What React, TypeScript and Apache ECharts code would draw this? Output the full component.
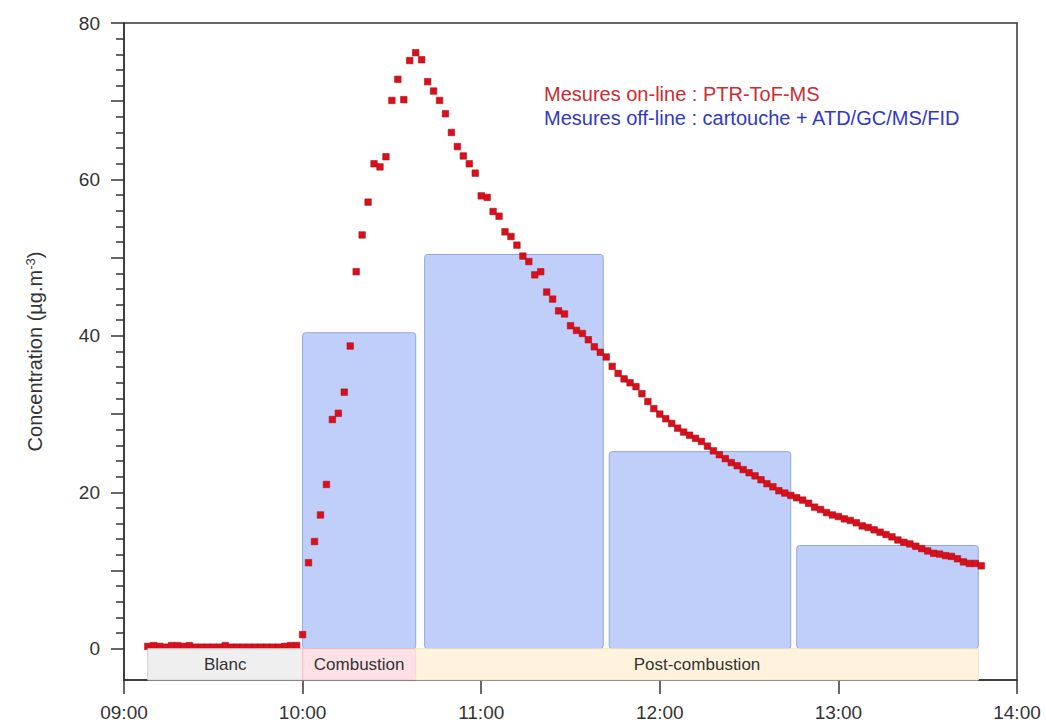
import React, { useEffect, useRef } from 'react';
import * as echarts from 'echarts';

// ---------- data ----------
const hourTicks = ['09:00', '10:00', '11:00', '12:00', '13:00', '14:00'];
const yLabelValues = [0, 20, 40, 60, 80];
const yMajorTickValues = [0, 10, 20, 30, 40, 50, 60, 70, 80];
const yMinorTickValues = [2, 4, 6, 8, 12, 14, 16, 18, 22, 24, 26, 28, 32, 34, 36, 38, 42, 44, 46, 48, 52, 54, 56, 58, 62, 64, 66, 68, 72, 74, 76, 78];

const phaseNames = ['Blanc', 'Combustion', 'Post-combustion'];
const phaseStart = ['09:08', '10:00', '10:38'];
const phaseEnd = ['10:00', '10:38', '13:47'];

const offlineStart = ['10:00', '10:41', '11:43', '12:46'];
const offlineEnd = ['10:38', '11:41', '12:44', '13:47'];
const offlineConc = [40.4, 50.4, 25.2, 13.2];

const onlineTime = [
  '09:08', '09:10', '09:12', '09:14', '09:16', '09:18', '09:20', '09:22', '09:24', '09:26',
  '09:28', '09:30', '09:32', '09:34', '09:36', '09:38', '09:40', '09:42', '09:44', '09:46',
  '09:48', '09:50', '09:52', '09:54', '09:56', '09:58',
  '10:00', '10:02', '10:04', '10:06', '10:08', '10:10', '10:12', '10:14', '10:16', '10:18',
  '10:20', '10:22', '10:24', '10:26', '10:28', '10:30', '10:32', '10:34', '10:36', '10:38',
  '10:40', '10:42', '10:44', '10:46', '10:48', '10:50', '10:52', '10:54', '10:56', '10:58',
  '11:00', '11:02', '11:04', '11:06', '11:08', '11:10', '11:12', '11:14', '11:16', '11:18',
  '11:20', '11:22', '11:24', '11:26', '11:28', '11:30', '11:32', '11:34', '11:36', '11:38',
  '11:40', '11:42', '11:44', '11:46', '11:48', '11:50', '11:52', '11:54', '11:56', '11:58',
  '12:00', '12:02', '12:04', '12:06', '12:08', '12:10', '12:12', '12:14', '12:16', '12:18',
  '12:20', '12:22', '12:24', '12:26', '12:28', '12:30', '12:32', '12:34', '12:36', '12:38',
  '12:40', '12:42', '12:44', '12:46', '12:48', '12:50', '12:52', '12:54', '12:56', '12:58',
  '13:00', '13:02', '13:04', '13:06', '13:08', '13:10', '13:12', '13:14', '13:16', '13:18',
  '13:20', '13:22', '13:24', '13:26', '13:28', '13:30', '13:32', '13:34', '13:36', '13:38',
  '13:40', '13:42', '13:44', '13:46', '13:48',
];
const onlineConc = [
  0.3, 0.4, 0.3, 0.2, 0.4, 0.4, 0.3, 0.4, 0.2, 0.2,
  0.2, 0.2, 0.2, 0.4, 0.2, 0.2, 0.2, 0.2, 0.2, 0.2,
  0.2, 0.2, 0.2, 0.3, 0.4, 0.4,
  1.8, 11.0, 13.7, 17.1, 21.0, 29.3, 30.1, 32.8, 38.7, 48.2,
  52.9, 57.1, 62.0, 61.6, 62.9, 70.1, 72.8, 70.2, 75.2, 76.2,
  75.3, 72.5, 71.3, 70.1, 68.4, 66.0, 64.2, 63.0, 62.0, 60.8,
  57.9, 57.7, 55.9, 55.3, 53.3, 52.7, 51.6, 50.2, 49.5, 47.8,
  48.2, 45.6, 44.7, 43.2, 42.8, 41.3, 40.7, 40.3, 39.5, 38.6,
  37.9, 37.3, 36.1, 35.2, 34.5, 34.0, 33.5, 32.6, 31.6, 30.7,
  30.0, 29.4, 28.8, 28.2, 27.7, 27.3, 26.9, 26.5, 25.9, 25.3,
  24.8, 24.3, 23.8, 23.4, 22.9, 22.5, 22.1, 21.6, 21.1, 20.7,
  20.2, 19.9, 19.6, 19.3, 19.0, 18.6, 18.1, 17.8, 17.4, 17.1,
  16.9, 16.6, 16.4, 16.1, 15.7, 15.5, 15.2, 14.9, 14.6, 14.3,
  13.9, 13.6, 13.4, 13.1, 12.8, 12.5, 12.2, 12.1, 11.9, 11.8,
  11.5, 11.1, 10.9, 10.9, 10.6,
];

const legendLines = ['Mesures on-line : PTR-ToF-MS', 'Mesures off-line : cartouche + ATD/GC/MS/FID'];
const yAxisTitle = 'Concentration (µg.m';
const yAxisTitleSup = '-3';

// ---------- helpers ----------
const toMin = (s: string) => {
  const [h, m] = s.split(':').map(Number);
  return h * 60 + m;
};

const FONT = '"Liberation Sans", Arial, Helvetica, sans-serif';
const AXIS_COLOR = '#333333';
const phaseFill = ['#efefef', '#fde1e7', '#fff3de'];
const phaseStroke = ['#cfcfcf', '#f1bcc6', '#f2e2c2'];

export default function App() {
  const ref = useRef<HTMLDivElement>(null);

  useEffect(() => {
    if (!ref.current) return;
    const chart = echarts.init(ref.current, undefined, { renderer: 'svg' });

    const onlineData = onlineTime.map((t, i) => [toMin(t), onlineConc[i]]);
    const offlineData = offlineStart.map((s, i) => [toMin(s), toMin(offlineEnd[i]), offlineConc[i]]);
    const phaseData = phaseNames.map((n, i) => [toMin(phaseStart[i]), toMin(phaseEnd[i]), i]);

    const option: any = {
      animation: false,
      backgroundColor: '#ffffff',
      grid: {
        left: 124,
        right: 29,
        top: 23,
        bottom: 46,
        show: true,
        borderColor: AXIS_COLOR,
        borderWidth: 1.5,
        backgroundColor: 'transparent',
      },
      xAxis: {
        type: 'value',
        min: 540,
        max: 840,
        interval: 60,
        axisLine: { show: true, onZero: false, lineStyle: { color: AXIS_COLOR, width: 1.5 } },
        axisTick: { show: true, length: 14, lineStyle: { color: AXIS_COLOR, width: 1.5 } },
        axisLabel: {
          margin: 23,
          color: AXIS_COLOR,
          fontSize: 19,
          fontFamily: FONT,
          formatter: (v: number) => hourTicks[Math.round((v - 540) / 60)] ?? '',
        },
        splitLine: { show: false },
      },
      yAxis: [
        {
          type: 'value',
          min: -4,
          max: 80,
          position: 'left',
          axisLine: { show: true, onZero: false, lineStyle: { color: AXIS_COLOR, width: 1.5 } },
          axisTick: { show: true, length: 13, customValues: yMajorTickValues, lineStyle: { color: AXIS_COLOR, width: 1.5 } },
          axisLabel: { customValues: yLabelValues, margin: 24, color: AXIS_COLOR, fontSize: 19, fontFamily: FONT },
          splitLine: { show: false },
          name: `${yAxisTitle}{sup|${yAxisTitleSup}})`,
          nameLocation: 'middle',
          nameGap: 78,
          nameTextStyle: {
            color: AXIS_COLOR,
            fontSize: 20,
            fontFamily: FONT,
            rich: { sup: { fontSize: 13, fontFamily: FONT, color: AXIS_COLOR, verticalAlign: 'top', padding: [0, 0, 9, 0] } },
          },
        },
        {
          type: 'value',
          min: -4,
          max: 80,
          position: 'left',
          axisLine: { show: false, onZero: false },
          axisTick: { show: true, length: 8, customValues: yMinorTickValues, lineStyle: { color: AXIS_COLOR, width: 1.5 } },
          axisLabel: { show: false },
          splitLine: { show: false },
        },
      ],
      graphic: [
        {
          type: 'text',
          left: 544,
          top: 84,
          style: { text: legendLines[0], fill: '#d02a32', font: `20px ${FONT}` },
        },
        {
          type: 'text',
          left: 544,
          top: 108,
          style: { text: legendLines[1], fill: '#3238c6', font: `20px ${FONT}` },
        },
      ],
      series: [
        {
          type: 'custom',
          name: 'offline',
          z: 2,
          data: offlineData,
          encode: { x: [0, 1], y: 2 },
          renderItem: (params: any, api: any) => {
            const p0 = api.coord([api.value(0), api.value(2)]);
            const p1 = api.coord([api.value(1), 0]);
            return {
              type: 'rect',
              shape: { x: p0[0], y: p0[1], width: p1[0] - p0[0], height: p1[1] - p0[1], r: 3 },
              style: { fill: '#c0cffa', stroke: '#93a7d9', lineWidth: 1 },
            };
          },
        },
        {
          type: 'scatter',
          name: 'online',
          z: 3,
          symbol: 'rect',
          symbolSize: 6.5,
          data: onlineData,
          itemStyle: { color: '#da0f1b', borderColor: '#a9141f', borderWidth: 0.6, opacity: 1 },
        },
        {
          type: 'custom',
          name: 'phases',
          z: 4,
          data: phaseData,
          encode: { x: [0, 1], y: 2 },
          renderItem: (params: any, api: any) => {
            const i = api.value(2);
            const p0 = api.coord([api.value(0), 0]);
            const p1 = api.coord([api.value(1), -4]);
            return {
              type: 'group',
              children: [
                {
                  type: 'rect',
                  shape: { x: p0[0], y: p0[1], width: p1[0] - p0[0], height: p1[1] - p0[1] },
                  style: { fill: phaseFill[i], stroke: phaseStroke[i], lineWidth: 1 },
                },
                {
                  type: 'text',
                  style: {
                    text: phaseNames[i],
                    x: (p0[0] + p1[0]) / 2,
                    y: (p0[1] + p1[1]) / 2,
                    align: 'center',
                    verticalAlign: 'middle',
                    fill: '#333333',
                    font: `17px ${FONT}`,
                  },
                },
              ],
            };
          },
        },
      ],
    };

    chart.setOption(option);
    return () => chart.dispose();
  }, []);

  return <div ref={ref} style={{ position: 'fixed', left: 0, top: 0, width: 1046, height: 726 }} />;
}
